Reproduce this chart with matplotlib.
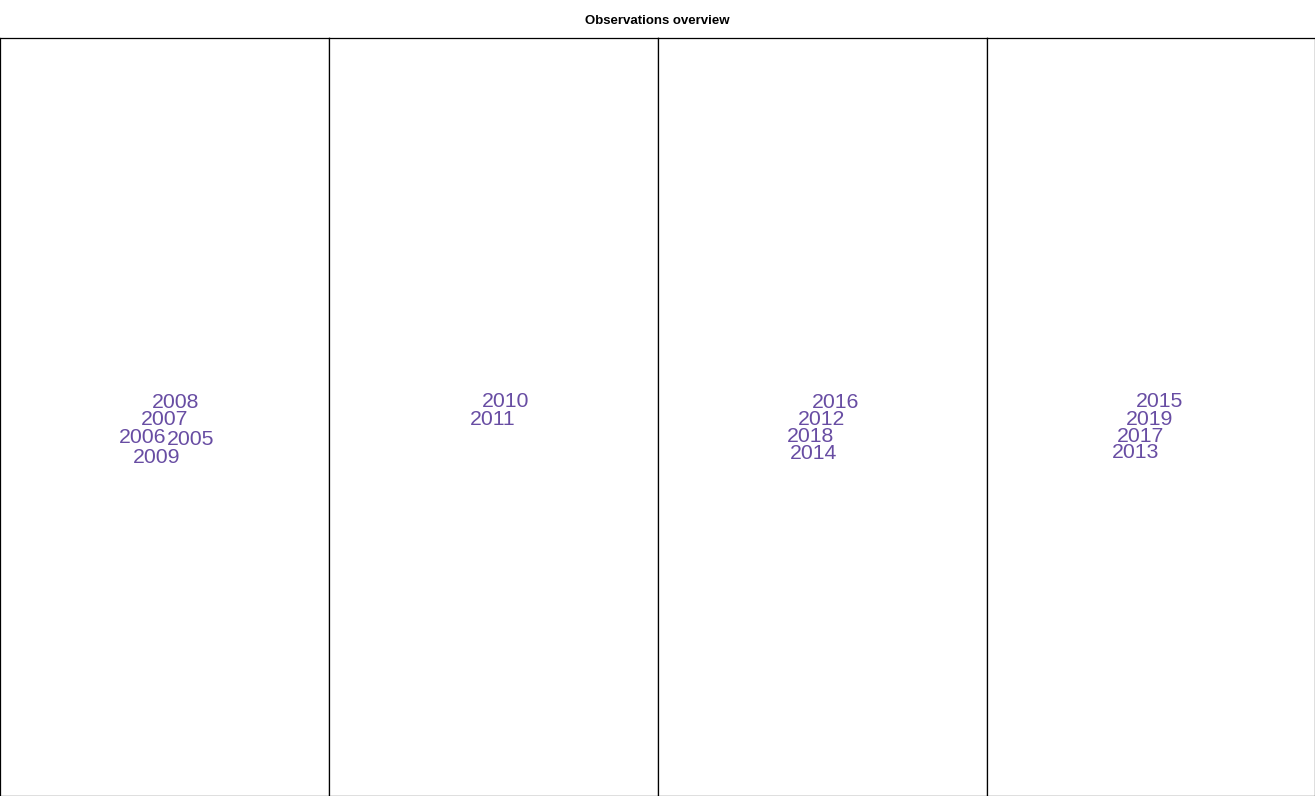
import matplotlib.pyplot as plt

plt.rcParams['font.family'] = ['Liberation Sans', 'DejaVu Sans']

# years grouped per panel, with their word-cloud offsets (px from panel centre)
panel_years = [
    ["2008", "2007", "2006", "2005", "2009"],
    ["2010", "2011"],
    ["2016", "2012", "2018", "2014"],
    ["2015", "2019", "2017", "2013"],
]
panel_dx = [
    [11, 0, -22, 26, -8],
    [12.5, -0.5],
    [13.5, -0.5, -11.5, -8.5],
    [9.5, -0.5, -9.5, -14.5],
]
panel_dy = [
    [-15.5, 1.5, 19.5, 21.5, 39.5],
    [-16.5, 1.5],
    [-15.5, 1.5, 18.5, 35.5],
    [-16.5, 1.5, 18.5, 34.5],
]

W, H = 1315, 796
fig = plt.figure(figsize=(W / 100, H / 100), dpi=100)
fig.text(657.5 / W, 1 - 21 / H, "Observations overview", ha="center", va="center",
         fontsize=9.5, fontweight="bold")

edges = [0, 328.5, 657.5, 986.5, 1314.5]
top, bottom = 38, 795.5
for i in range(4):
    x0, x1 = edges[i], edges[i + 1]
    ax = fig.add_axes([x0 / W, 1 - bottom / H, (x1 - x0) / W, (bottom - top) / H])
    hw, hh = (x1 - x0) / 2, (bottom - top) / 2
    ax.set_xlim(-hw, hw)
    ax.set_ylim(hh, -hh)
    ax.set_xticks([])
    ax.set_yticks([])
    for s in ax.spines.values():
        s.set_linewidth(0.9)
        s.set_color("black")
    for yr, dx, dy in zip(panel_years[i], panel_dx[i], panel_dy[i]):
        ax.text(dx, dy + 1.5, yr, ha="center", va="center", fontsize=15.3,
                color="#684da3")

fig.savefig("out.png", dpi=100)
